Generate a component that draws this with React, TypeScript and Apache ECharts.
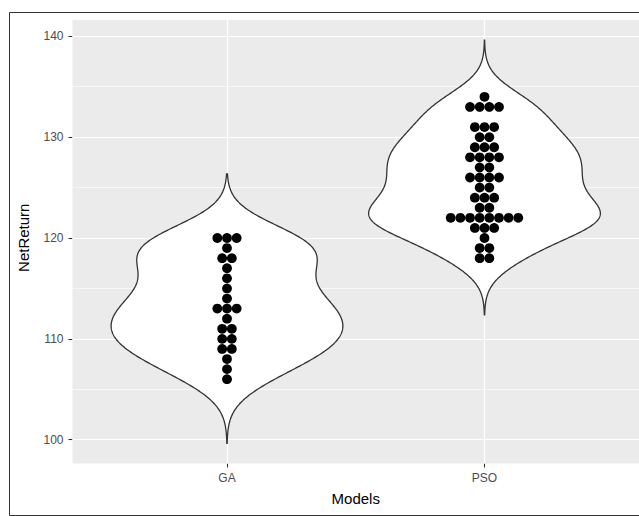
import React, { useEffect, useRef } from "react";
import * as echarts from "echarts";

const categories = ["GA", "PSO"];
const gaNetReturn = [
  106, 107, 108, 109, 109, 110, 110, 111, 111, 112, 113, 113, 113, 114, 115, 116, 117, 118, 118, 119,
  120, 120, 120,
];
const psoNetReturn = [
  118, 118, 119, 119, 120, 121, 121, 121, 122, 122, 122, 122, 122, 122, 122, 122, 123, 123, 124, 124,
  124, 125, 125, 126, 126, 126, 126, 127, 127, 128, 128, 128, 128, 129, 129, 129, 130, 130, 131, 131,
  131, 133, 133, 133, 133, 134,
];
const yTicks = [100, 110, 120, 130, 140];
const yMinorTicks = [105, 115, 125, 135];
const xTicks = [1, 2];

const groups = [gaNetReturn, psoNetReturn];

function quantile7(sorted: number[], p: number) {
  const h = (sorted.length - 1) * p;
  const lo = Math.floor(h);
  const hi = Math.ceil(h);
  return sorted[lo] + (h - lo) * (sorted[hi] - sorted[lo]);
}

function bwNrd0(x: number[]) {
  const n = x.length;
  const mean = x.reduce((a, b) => a + b, 0) / n;
  const sd = Math.sqrt(x.reduce((a, b) => a + (b - mean) * (b - mean), 0) / (n - 1));
  const s = [...x].sort((a, b) => a - b);
  const iqr = quantile7(s, 0.75) - quantile7(s, 0.25);
  const lo = Math.min(sd, iqr / 1.34);
  return 0.9 * lo * Math.pow(n, -0.2);
}

function kde(x: number[], n = 512) {
  const bw = bwNrd0(x);
  const mn = Math.min(...x);
  const mx = Math.max(...x);
  const lo = mn - 3 * bw;
  const hi = mx + 3 * bw;
  const ys: number[] = [];
  const ds: number[] = [];
  for (let i = 0; i < n; i++) {
    const y = lo + ((hi - lo) * i) / (n - 1);
    let d = 0;
    for (const xi of x) {
      const z = (y - xi) / bw;
      d += Math.exp(-0.5 * z * z);
    }
    d /= x.length * bw * Math.sqrt(2 * Math.PI);
    ys.push(y);
    ds.push(d);
  }
  return { ys, ds, lo, hi };
}

const densities = groups.map((g) => kde(g));

export default function App() {
  const ref = useRef<HTMLDivElement>(null);

  useEffect(() => {
    if (!ref.current) return;
    const chart = echarts.init(ref.current, null, { renderer: "svg" });

    const yLo = Math.min(...densities.map((d) => d.lo));
    const yHi = Math.max(...densities.map((d) => d.hi));
    const pad = (yHi - yLo) * 0.05;

    const dotStep = 0.0375;
    const dots: number[][] = [];
    groups.forEach((vals, gi) => {
      const counts = new Map<number, number>();
      vals.forEach((v) => counts.set(v, (counts.get(v) || 0) + 1));
      counts.forEach((c, v) => {
        for (let k = 0; k < c; k++) {
          dots.push([gi + 1 + (k - (c - 1) / 2) * dotStep, v]);
        }
      });
    });

    const font = "Liberation Sans, Arial, Helvetica, sans-serif";

    chart.setOption({
      animation: false,
      backgroundColor: "#ffffff",
      grid: {
        left: 72.5,
        top: 20,
        width: 568.5,
        height: 443.5,
        show: true,
        backgroundColor: "#EBEBEB",
        borderWidth: 0,
        containLabel: false,
      },
      xAxis: {
        type: "value",
        min: 0.4,
        max: 2.6,
        name: "Models",
        nameLocation: "middle",
        nameGap: 27,
        nameTextStyle: { color: "#000", fontSize: 15, fontFamily: font },
        axisLine: { show: false },
        splitLine: { show: false },
        axisTick: {
          show: true,
          customValues: xTicks,
          length: 4,
          lineStyle: { color: "#333", width: 1.1 },
        },
        axisLabel: {
          customValues: xTicks,
          formatter: (v: number) => categories[Math.round(v) - 1] ?? "",
          color: "#4D4D4D",
          fontSize: 12,
          fontFamily: font,
          margin: 8,
        },
      },
      yAxis: {
        type: "value",
        min: yLo - pad,
        max: yHi + pad,
        name: "NetReturn",
        nameLocation: "middle",
        nameGap: 42,
        nameRotate: 90,
        nameTextStyle: { color: "#000", fontSize: 15, fontFamily: font, padding: [0, 0, 0, 8] },
        axisLine: { show: false },
        splitLine: { show: false },
        axisTick: {
          show: true,
          customValues: yTicks,
          length: 4,
          lineStyle: { color: "#333", width: 1.1 },
        },
        axisLabel: {
          customValues: yTicks,
          color: "#4D4D4D",
          fontSize: 12,
          fontFamily: font,
          margin: 9,
        },
      },
      graphic: [
        {
          type: "rect",
          shape: { x: 9.5, y: 12.5, width: 640, height: 503 },
          style: { fill: "none", stroke: "#333", lineWidth: 1 },
          silent: true,
          z: 100,
        },
      ],
      series: [
        {
          type: "line",
          data: [],
          z: 1,
          silent: true,
          markLine: {
            silent: true,
            z: 1,
            symbol: "none",
            label: { show: false },
            animation: false,
            data: [
              ...yMinorTicks.map((v) => ({ yAxis: v, lineStyle: { color: "#fff", width: 0.6, type: "solid" } })),
              ...yTicks.map((v) => ({ yAxis: v, lineStyle: { color: "#fff", width: 1.2, type: "solid" } })),
              ...xTicks.map((v) => ({ xAxis: v, lineStyle: { color: "#fff", width: 1.2, type: "solid" } })),
            ],
          },
        },
        {
          type: "custom",
          z: 3,
          silent: true,
          data: groups.map((g, i) => [i + 1, quantile7([...g].sort((a, b) => a - b), 0.5)]),
          renderItem: (params: any, api: any) => {
            const gi = params.dataIndex;
            const d = densities[gi];
            const maxD = Math.max(...d.ds);
            const cx = gi + 1;
            const pts: number[][] = [];
            for (let i = 0; i < d.ys.length; i++) {
              pts.push(api.coord([cx - (0.45 * d.ds[i]) / maxD, d.ys[i]]));
            }
            for (let i = d.ys.length - 1; i >= 0; i--) {
              pts.push(api.coord([cx + (0.45 * d.ds[i]) / maxD, d.ys[i]]));
            }
            return {
              type: "polygon",
              shape: { points: pts },
              style: { fill: "#ffffff", stroke: "#333333", lineWidth: 1.3 },
            };
          },
        },
        {
          type: "scatter",
          z: 4,
          silent: true,
          symbol: "circle",
          symbolSize: 9.8,
          itemStyle: { color: "#000", opacity: 1 },
          data: dots,
        },
      ],
    });

    return () => chart.dispose();
  }, []);

  return (
    <div
      ref={ref}
      style={{ position: "absolute", left: 0, top: 0, width: 639, height: 516 }}
    />
  );
}
